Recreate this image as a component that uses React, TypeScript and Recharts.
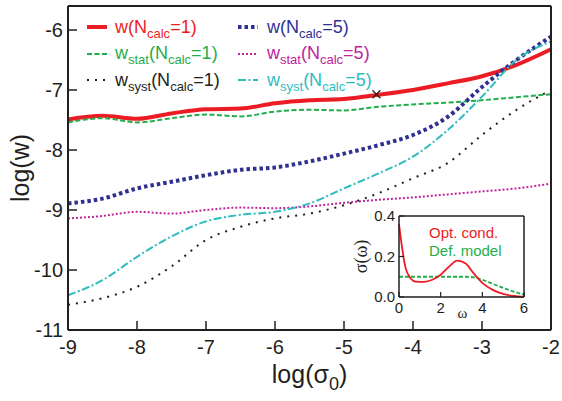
import React from 'react';
import { ComposedChart, LineChart, Line, Scatter, XAxis, YAxis, CartesianGrid } from 'recharts';

// log(sigma0) sample positions
const sigma0 = [-9, -8.5, -8, -7.5, -7, -6.5, -6, -5.5, -5, -4.5, -4, -3.5, -3, -2.5, -2];

const wCalc1 = [-7.49, -7.43, -7.48, -7.39, -7.32, -7.31, -7.22, -7.17, -7.15, -7.08, -7.0, -6.89, -6.77, -6.58, -6.32];
const wStatCalc1 = [-7.54, -7.47, -7.54, -7.47, -7.41, -7.44, -7.36, -7.33, -7.34, -7.28, -7.24, -7.21, -7.17, -7.12, -7.07];
const wSystCalc1 = [-10.58, -10.47, -10.28, -9.94, -9.5, -9.28, -9.14, -9.06, -8.92, -8.72, -8.47, -8.22, -7.75, -7.33, -7.0];
const wCalc5 = [-8.89, -8.81, -8.64, -8.53, -8.42, -8.33, -8.29, -8.19, -8.06, -7.92, -7.75, -7.45, -6.95, -6.5, -6.11];
const wStatCalc5 = [-9.14, -9.1, -9.03, -9.06, -9.0, -8.96, -8.97, -8.94, -8.88, -8.83, -8.79, -8.74, -8.69, -8.64, -8.56];
const wSystCalc5 = [-10.42, -10.17, -9.78, -9.44, -9.19, -9.08, -9.03, -8.89, -8.64, -8.39, -8.11, -7.67, -7.11, -6.5, -6.19];

const xTicks = [-9, -8, -7, -6, -5, -4, -3, -2];
const yTicks = [-11, -10, -9, -8, -7, -6];
const crossPoint = [{ x: -4.53, y: -7.07 }];

// inset: optical conductivity and default model
const omega = [0, 0.1, 0.3, 0.5, 0.8, 1.2, 1.6, 2.0, 2.4, 2.8, 3.2, 3.6, 4.0, 4.5, 5.0, 5.5, 6.0];
const optCond = [0.36, 0.28, 0.15, 0.1, 0.076, 0.075, 0.085, 0.11, 0.15, 0.18, 0.165, 0.115, 0.07, 0.035, 0.015, 0.005, 0];
const defModel = [0.1, 0.1, 0.1, 0.1, 0.1, 0.1, 0.1, 0.1, 0.1, 0.1, 0.1, 0.097, 0.085, 0.065, 0.045, 0.027, 0.012];
const insetXTicks = [0, 2, 4, 6];
const insetYTicks = [0, 0.2, 0.4];

const INK = '#231f20';
const FONT = '"Liberation Sans", Arial, Helvetica, sans-serif';
const SERIF = '"Liberation Serif", "Times New Roman", serif';

const series = [
  { key: 'w1', name: 'w', sub: '', n: 1, color: '#ec1c24', width: 4, dash: undefined, textColor: '#ec1c24' },
  { key: 'ws1', name: 'w', sub: 'stat', n: 1, color: '#1fae4a', width: 2, dash: '5 2.5', textColor: '#1fae4a' },
  { key: 'wy1', name: 'w', sub: 'syst', n: 1, color: INK, width: 2, dash: '2 6', textColor: INK },
  { key: 'w5', name: 'w', sub: '', n: 5, color: '#2e3192', width: 4, dash: '3.5 3', textColor: '#2e3192' },
  { key: 'ws5', name: 'w', sub: 'stat', n: 5, color: '#c0249b', width: 2, dash: '2 2', textColor: '#c0249b' },
  { key: 'wy5', name: 'w', sub: 'syst', n: 5, color: '#2fbcbf', width: 2, dash: '8 2.5 2 2.5', textColor: '#2fbcbf' },
];

const data = sigma0.map((x, i) => ({
  x,
  w1: wCalc1[i],
  ws1: wStatCalc1[i],
  wy1: wSystCalc1[i],
  w5: wCalc5[i],
  ws5: wStatCalc5[i],
  wy5: wSystCalc5[i],
}));

const insetData = omega.map((x, i) => ({ x, opt: optCond[i], def: defModel[i] }));

const XTitle = ({ viewBox }: any) => {
  const { x, y, width } = viewBox;
  return (
    <text x={x + width / 2} y={y + 53} textAnchor="middle" fontSize={25} fill={INK} fontFamily={FONT}>
      log(σ<tspan dy={7} fontSize={18}>0</tspan>
      <tspan dy={-7}>)</tspan>
    </text>
  );
};

const YTitle = ({ viewBox }: any) => {
  const { x, y, height } = viewBox;
  const cx = x + 29;
  const cy = y + height / 2;
  return (
    <text x={cx} y={cy} textAnchor="middle" fontSize={25} fill={INK} fontFamily={FONT} transform={`rotate(-90, ${cx}, ${cy})`}>
      log(w)
    </text>
  );
};

const InsetXTitle = ({ viewBox }: any) => {
  const { x, y, width } = viewBox;
  return (
    <text x={x + width / 2 + 1} y={y + 21} textAnchor="middle" fontSize={15} fill={INK} fontFamily={SERIF}>
      ω
    </text>
  );
};

const InsetYTitle = ({ viewBox }: any) => {
  const { x, y, height } = viewBox;
  const cx = x + 27;
  const cy = y + height / 2;
  return (
    <text x={cx} y={cy} textAnchor="middle" fontSize={18} fill={INK} fontFamily={SERIF} transform={`rotate(-90, ${cx}, ${cy})`}>
      σ(ω)
    </text>
  );
};

const CrossMark = ({ cx, cy }: any) => (
  <g stroke={INK} strokeWidth={1.3}>
    <line x1={cx - 4} y1={cy - 4} x2={cx + 4} y2={cy + 4} />
    <line x1={cx - 4} y1={cy + 4} x2={cx + 4} y2={cy - 4} />
  </g>
);

const LegendBlock = () => (
  <>
    {series.map((s, i) => {
      const col = Math.floor(i / 3);
      const row = i % 3;
      return (
        <div
          key={s.key}
          style={{
            position: 'absolute',
            left: col === 0 ? 87 : 238,
            top: 14 + row * 26.5,
            height: 26,
            display: 'flex',
            alignItems: 'center',
            fontFamily: FONT,
            fontSize: 18,
            color: s.textColor,
            whiteSpace: 'nowrap',
          }}
        >
          <svg width={22} height={8} style={{ marginRight: col === 0 ? 6 : 7 }}>
            <line x1={0} y1={4} x2={20} y2={4} stroke={s.color} strokeWidth={s.width} strokeDasharray={s.dash} />
          </svg>
          <span>
            {s.name}
            {s.sub && <span style={{ fontSize: 13, position: 'relative', top: 5 }}>{s.sub}</span>}
            (N<span style={{ fontSize: 13, position: 'relative', top: 5 }}>calc</span>={s.n})
          </span>
        </div>
      );
    })}
  </>
);

const axisLine = { stroke: INK, strokeWidth: 2 };
const tickLine = { stroke: INK, strokeWidth: 1.5 };

const Inset = () => (
  <div style={{ position: 'absolute', left: 340, top: 205, width: 195, height: 120 }}>
    <LineChart width={195} height={120} data={insetData} margin={{ top: 10, right: 10, bottom: 0, left: 0 }}>
      <CartesianGrid horizontal={false} vertical={false} fill="#ffffff" />
      <XAxis
        dataKey="x"
        type="number"
        domain={[0, 6]}
        ticks={insetXTicks}
        interval={0}
        height={28}
        tickSize={-5}
        tickMargin={10}
        axisLine={{ stroke: INK, strokeWidth: 1.5 }}
        tickLine={{ stroke: INK, strokeWidth: 1.2 }}
        tick={{ fill: INK, fontSize: 15, fontFamily: FONT }}
        label={(props: any) => <InsetXTitle {...props} />}
      />
      <XAxis xAxisId="top" orientation="top" dataKey="x" type="number" domain={[0, 6]} ticks={insetXTicks} height={1} tickSize={-5} tick={false} axisLine={{ stroke: INK, strokeWidth: 1.5 }} tickLine={{ stroke: INK, strokeWidth: 1.2 }} />
      <YAxis
        type="number"
        domain={[0, 0.4]}
        ticks={insetYTicks}
        interval={0}
        width={59}
        tickSize={-5}
        tickMargin={9}
        axisLine={{ stroke: INK, strokeWidth: 1.5 }}
        tickLine={{ stroke: INK, strokeWidth: 1.2 }}
        tick={{ fill: INK, fontSize: 15, fontFamily: FONT }}
        tickFormatter={(v: number) => v.toFixed(1)}
        label={(props: any) => <InsetYTitle {...props} />}
      />
      <YAxis yAxisId="right" orientation="right" type="number" domain={[0, 0.4]} ticks={insetYTicks} width={1} tickSize={-5} tick={false} axisLine={{ stroke: INK, strokeWidth: 1.5 }} tickLine={{ stroke: INK, strokeWidth: 1.2 }} />
      <Line type="monotone" dataKey="def" stroke="#1fae4a" strokeWidth={1.8} strokeDasharray="4 2" dot={false} isAnimationActive={false} />
      <Line type="monotone" dataKey="opt" stroke="#ec1c24" strokeWidth={1.8} dot={false} isAnimationActive={false} />
    </LineChart>
    <div style={{ position: 'absolute', left: 89, top: 19, fontFamily: FONT, fontSize: 15, color: '#ec1c24', lineHeight: '18px' }}>Opt. cond.</div>
    <div style={{ position: 'absolute', left: 89, top: 37, fontFamily: FONT, fontSize: 15, color: '#1fae4a', lineHeight: '18px' }}>Def. model</div>
  </div>
);

export default function App() {
  return (
    <div style={{ position: 'relative', width: 562, height: 401, background: '#fff', fontFamily: FONT }}>
      <style>{'body{margin:0}'}</style>
      <ComposedChart width={562} height={401} data={data} margin={{ top: 5, right: 10, bottom: 0, left: 0 }}>
        <XAxis
          dataKey="x"
          type="number"
          domain={[-9, -2]}
          ticks={xTicks}
          interval={0}
          height={71}
          tickSize={-9}
          tickMargin={19}
          axisLine={axisLine}
          tickLine={tickLine}
          tick={{ fill: INK, fontSize: 20, fontFamily: FONT }}
          label={(props: any) => <XTitle {...props} />}
        />
        <XAxis xAxisId="top" orientation="top" dataKey="x" type="number" domain={[-9, -2]} ticks={xTicks} height={1} tickSize={-9} tick={false} axisLine={axisLine} tickLine={tickLine} />
        <YAxis
          type="number"
          domain={[-11, -5.6]}
          ticks={yTicks}
          interval={0}
          width={68}
          tickSize={-9}
          tickMargin={14}
          allowDataOverflow
          axisLine={axisLine}
          tickLine={tickLine}
          tick={{ fill: INK, fontSize: 20, fontFamily: FONT }}
          label={(props: any) => <YTitle {...props} />}
        />
        <YAxis yAxisId="right" orientation="right" type="number" domain={[-11, -5.6]} ticks={yTicks} width={1} tickSize={-9} tick={false} axisLine={axisLine} tickLine={tickLine} />
        {series.map((s) => (
          <Line
            key={s.key}
            type="monotone"
            dataKey={s.key}
            stroke={s.color}
            strokeWidth={s.width}
            strokeDasharray={s.dash}
            dot={false}
            isAnimationActive={false}
          />
        ))}
        <Scatter data={crossPoint} dataKey="y" shape={(props: any) => <CrossMark {...props} />} isAnimationActive={false} />
      </ComposedChart>
      <LegendBlock />
      <Inset />
    </div>
  );
}
